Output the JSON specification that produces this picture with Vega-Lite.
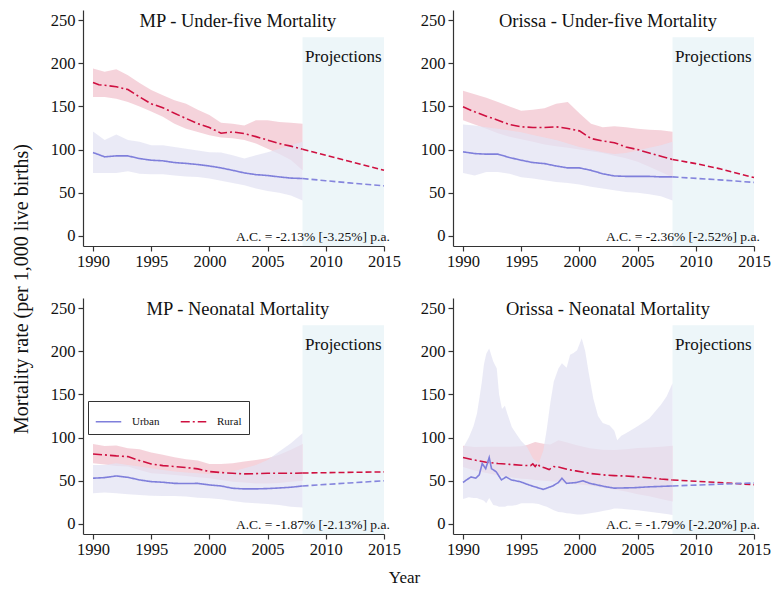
{
  "$schema": "https://vega.github.io/schema/vega-lite/v6.json",
  "padding": {"left": 12, "top": 10, "right": 5, "bottom": 5},
  "title": {"text": "Mortality rate (per 1,000 live births)", "orient": "left", "anchor": "middle", "font": "Liberation Serif", "fontSize": 20, "fontWeight": "normal", "color": "#111", "offset": 18, "dx": 10},
  "datasets": {
    "band": [
      {"p":1,"g":"Rural","yr":1990,"lo":161,"hi":194},{"p":1,"g":"Rural","yr":1991,"lo":161,"hi":190},{"p":1,"g":"Rural","yr":1992,"lo":159,"hi":193},{"p":1,"g":"Rural","yr":1993,"lo":155,"hi":186},{"p":1,"g":"Rural","yr":1994,"lo":150,"hi":177},{"p":1,"g":"Rural","yr":1995,"lo":144,"hi":169},{"p":1,"g":"Rural","yr":1996,"lo":138,"hi":163},{"p":1,"g":"Rural","yr":1997,"lo":130,"hi":157},{"p":1,"g":"Rural","yr":1998,"lo":124,"hi":153},{"p":1,"g":"Rural","yr":1999,"lo":120.5,"hi":146},{"p":1,"g":"Rural","yr":2000,"lo":116.7,"hi":140},{"p":1,"g":"Rural","yr":2001,"lo":114,"hi":131},{"p":1,"g":"Rural","yr":2002,"lo":113,"hi":130},{"p":1,"g":"Rural","yr":2003,"lo":111,"hi":128},{"p":1,"g":"Rural","yr":2004,"lo":107,"hi":134},{"p":1,"g":"Rural","yr":2005,"lo":101,"hi":134},{"p":1,"g":"Rural","yr":2006,"lo":95,"hi":132},{"p":1,"g":"Rural","yr":2007,"lo":88,"hi":131},{"p":1,"g":"Rural","yr":2008,"lo":76,"hi":130},
      {"p":1,"g":"Urban","yr":1990,"lo":73,"hi":121},{"p":1,"g":"Urban","yr":1991,"lo":73,"hi":111},{"p":1,"g":"Urban","yr":1992,"lo":73,"hi":117.5},{"p":1,"g":"Urban","yr":1993,"lo":75,"hi":111},{"p":1,"g":"Urban","yr":1994,"lo":72,"hi":109},{"p":1,"g":"Urban","yr":1995,"lo":71.5,"hi":105},{"p":1,"g":"Urban","yr":1996,"lo":71.5,"hi":105},{"p":1,"g":"Urban","yr":1997,"lo":70,"hi":103},{"p":1,"g":"Urban","yr":1998,"lo":69,"hi":101},{"p":1,"g":"Urban","yr":1999,"lo":68.4,"hi":99},{"p":1,"g":"Urban","yr":2000,"lo":66.5,"hi":97},{"p":1,"g":"Urban","yr":2001,"lo":63.8,"hi":96.6},{"p":1,"g":"Urban","yr":2002,"lo":61.4,"hi":93.5},{"p":1,"g":"Urban","yr":2003,"lo":58.7,"hi":89.6},{"p":1,"g":"Urban","yr":2004,"lo":55,"hi":93.5},{"p":1,"g":"Urban","yr":2005,"lo":52,"hi":97},{"p":1,"g":"Urban","yr":2006,"lo":50,"hi":101},{"p":1,"g":"Urban","yr":2007,"lo":47,"hi":105},{"p":1,"g":"Urban","yr":2008,"lo":41,"hi":109},
      {"p":2,"g":"Rural","yr":1990,"lo":134,"hi":168},{"p":2,"g":"Rural","yr":1991,"lo":129,"hi":164},{"p":2,"g":"Rural","yr":1992,"lo":124,"hi":160},{"p":2,"g":"Rural","yr":1993,"lo":119,"hi":155},{"p":2,"g":"Rural","yr":1994,"lo":115,"hi":150},{"p":2,"g":"Rural","yr":1995,"lo":112,"hi":145},{"p":2,"g":"Rural","yr":1996,"lo":109,"hi":146},{"p":2,"g":"Rural","yr":1997,"lo":106,"hi":148},{"p":2,"g":"Rural","yr":1998,"lo":104,"hi":153},{"p":2,"g":"Rural","yr":1999,"lo":102,"hi":155},{"p":2,"g":"Rural","yr":2000,"lo":100,"hi":142},{"p":2,"g":"Rural","yr":2001,"lo":98,"hi":130},{"p":2,"g":"Rural","yr":2002,"lo":96,"hi":126},{"p":2,"g":"Rural","yr":2003,"lo":93,"hi":127},{"p":2,"g":"Rural","yr":2004,"lo":90,"hi":126},{"p":2,"g":"Rural","yr":2005,"lo":86,"hi":124},{"p":2,"g":"Rural","yr":2006,"lo":80,"hi":123},{"p":2,"g":"Rural","yr":2007,"lo":74,"hi":122.5},{"p":2,"g":"Rural","yr":2008,"lo":68,"hi":120.6},
      {"p":2,"g":"Urban","yr":1990,"lo":73,"hi":129},{"p":2,"g":"Urban","yr":1991,"lo":70,"hi":128},{"p":2,"g":"Urban","yr":1992,"lo":74,"hi":126},{"p":2,"g":"Urban","yr":1993,"lo":74,"hi":124},{"p":2,"g":"Urban","yr":1994,"lo":72,"hi":122},{"p":2,"g":"Urban","yr":1995,"lo":68,"hi":120},{"p":2,"g":"Urban","yr":1996,"lo":66.5,"hi":117},{"p":2,"g":"Urban","yr":1997,"lo":64.5,"hi":114},{"p":2,"g":"Urban","yr":1998,"lo":62.6,"hi":111},{"p":2,"g":"Urban","yr":1999,"lo":61.4,"hi":107},{"p":2,"g":"Urban","yr":2000,"lo":59.5,"hi":103},{"p":2,"g":"Urban","yr":2001,"lo":57,"hi":100},{"p":2,"g":"Urban","yr":2002,"lo":55,"hi":97},{"p":2,"g":"Urban","yr":2003,"lo":53,"hi":95},{"p":2,"g":"Urban","yr":2004,"lo":51,"hi":96},{"p":2,"g":"Urban","yr":2005,"lo":50,"hi":99},{"p":2,"g":"Urban","yr":2006,"lo":48.3,"hi":102},{"p":2,"g":"Urban","yr":2007,"lo":46,"hi":105},{"p":2,"g":"Urban","yr":2008,"lo":41,"hi":109},
      {"p":3,"g":"Rural","yr":1990,"lo":70.3,"hi":92.7},{"p":3,"g":"Rural","yr":1991,"lo":69,"hi":90.4},{"p":3,"g":"Rural","yr":1992,"lo":67,"hi":90.8},{"p":3,"g":"Rural","yr":1993,"lo":66.5,"hi":87.7},{"p":3,"g":"Rural","yr":1994,"lo":62.6,"hi":86.5},{"p":3,"g":"Rural","yr":1995,"lo":58.7,"hi":82.7},{"p":3,"g":"Rural","yr":1996,"lo":58,"hi":80},{"p":3,"g":"Rural","yr":1997,"lo":56.8,"hi":77.3},{"p":3,"g":"Rural","yr":1998,"lo":55.6,"hi":75},{"p":3,"g":"Rural","yr":1999,"lo":54,"hi":73.4},{"p":3,"g":"Rural","yr":2000,"lo":53,"hi":69.5},{"p":3,"g":"Rural","yr":2001,"lo":51,"hi":69.5},{"p":3,"g":"Rural","yr":2002,"lo":49,"hi":70.3},{"p":3,"g":"Rural","yr":2003,"lo":48,"hi":72.3},{"p":3,"g":"Rural","yr":2004,"lo":47,"hi":74.2},{"p":3,"g":"Rural","yr":2005,"lo":47,"hi":76},{"p":3,"g":"Rural","yr":2006,"lo":47.5,"hi":80},{"p":3,"g":"Rural","yr":2007,"lo":49,"hi":85.8},{"p":3,"g":"Rural","yr":2008,"lo":50,"hi":92.7},
      {"p":3,"g":"Urban","yr":1990,"lo":35.5,"hi":68.4},{"p":3,"g":"Urban","yr":1991,"lo":36.3,"hi":68.4},{"p":3,"g":"Urban","yr":1992,"lo":35.5,"hi":70.3},{"p":3,"g":"Urban","yr":1993,"lo":34.4,"hi":68.4},{"p":3,"g":"Urban","yr":1994,"lo":33.6,"hi":66.5},{"p":3,"g":"Urban","yr":1995,"lo":32.8,"hi":64.5},{"p":3,"g":"Urban","yr":1996,"lo":32.5,"hi":62.6},{"p":3,"g":"Urban","yr":1997,"lo":32.5,"hi":60.7},{"p":3,"g":"Urban","yr":1998,"lo":31.7,"hi":59.5},{"p":3,"g":"Urban","yr":1999,"lo":30.5,"hi":58.7},{"p":3,"g":"Urban","yr":2000,"lo":29.8,"hi":58},{"p":3,"g":"Urban","yr":2001,"lo":28.6,"hi":58.7},{"p":3,"g":"Urban","yr":2002,"lo":26.7,"hi":60.7},{"p":3,"g":"Urban","yr":2003,"lo":25,"hi":64.5},{"p":3,"g":"Urban","yr":2004,"lo":24,"hi":68.4},{"p":3,"g":"Urban","yr":2005,"lo":23.2,"hi":74.2},{"p":3,"g":"Urban","yr":2006,"lo":22,"hi":83.8},{"p":3,"g":"Urban","yr":2007,"lo":20,"hi":93.5},{"p":3,"g":"Urban","yr":2008,"lo":19,"hi":105},
      {"p":4,"g":"Rural","yr":1990,"lo":66,"hi":90.5},{"p":4,"g":"Rural","yr":1991,"lo":62,"hi":89},{"p":4,"g":"Rural","yr":1992,"lo":59,"hi":89.5},{"p":4,"g":"Rural","yr":1993,"lo":56.5,"hi":89.5},{"p":4,"g":"Rural","yr":1994,"lo":54,"hi":89.5},{"p":4,"g":"Rural","yr":1995,"lo":52.5,"hi":90},{"p":4,"g":"Rural","yr":1995.5,"lo":52,"hi":91.5},{"p":4,"g":"Rural","yr":1996.2,"lo":51,"hi":95},{"p":4,"g":"Rural","yr":1996.9,"lo":50,"hi":93},{"p":4,"g":"Rural","yr":1997.5,"lo":49.5,"hi":92},{"p":4,"g":"Rural","yr":1998.2,"lo":48.5,"hi":97},{"p":4,"g":"Rural","yr":1998.8,"lo":47.5,"hi":95},{"p":4,"g":"Rural","yr":1999.7,"lo":46,"hi":91.5},{"p":4,"g":"Rural","yr":2000.9,"lo":44.5,"hi":87.6},{"p":4,"g":"Rural","yr":2002,"lo":42,"hi":86},{"p":4,"g":"Rural","yr":2003,"lo":40,"hi":85.5},{"p":4,"g":"Rural","yr":2004,"lo":37.5,"hi":86.5},{"p":4,"g":"Rural","yr":2005,"lo":34.5,"hi":88},{"p":4,"g":"Rural","yr":2006,"lo":32,"hi":88.5},{"p":4,"g":"Rural","yr":2007,"lo":29,"hi":89.5},{"p":4,"g":"Rural","yr":2008,"lo":26,"hi":90.5},
      {"p":4,"g":"Urban","yr":1990,"lo":29,"hi":88},{"p":4,"g":"Urban","yr":1990.5,"lo":31,"hi":100},{"p":4,"g":"Urban","yr":1990.9,"lo":30,"hi":113},{"p":4,"g":"Urban","yr":1991.2,"lo":30,"hi":128},{"p":4,"g":"Urban","yr":1991.4,"lo":29,"hi":145},{"p":4,"g":"Urban","yr":1991.6,"lo":28,"hi":163},{"p":4,"g":"Urban","yr":1991.8,"lo":27,"hi":185},{"p":4,"g":"Urban","yr":1992,"lo":24,"hi":197},{"p":4,"g":"Urban","yr":1992.25,"lo":30,"hi":203},{"p":4,"g":"Urban","yr":1992.6,"lo":22,"hi":188},{"p":4,"g":"Urban","yr":1992.9,"lo":21,"hi":180},{"p":4,"g":"Urban","yr":1993.1,"lo":20,"hi":150},{"p":4,"g":"Urban","yr":1993.35,"lo":20,"hi":133},{"p":4,"g":"Urban","yr":1993.6,"lo":20,"hi":137},{"p":4,"g":"Urban","yr":1993.8,"lo":21,"hi":128},{"p":4,"g":"Urban","yr":1994.2,"lo":21,"hi":112},{"p":4,"g":"Urban","yr":1994.6,"lo":22,"hi":104},{"p":4,"g":"Urban","yr":1995,"lo":24,"hi":96},{"p":4,"g":"Urban","yr":1995.5,"lo":24,"hi":89},{"p":4,"g":"Urban","yr":1996,"lo":24,"hi":76},{"p":4,"g":"Urban","yr":1996.5,"lo":23,"hi":70},{"p":4,"g":"Urban","yr":1996.9,"lo":21,"hi":85},{"p":4,"g":"Urban","yr":1997.2,"lo":20,"hi":110},{"p":4,"g":"Urban","yr":1997.5,"lo":18,"hi":140},{"p":4,"g":"Urban","yr":1997.8,"lo":16,"hi":165},{"p":4,"g":"Urban","yr":1998.2,"lo":14,"hi":180},{"p":4,"g":"Urban","yr":1998.5,"lo":13.5,"hi":186},{"p":4,"g":"Urban","yr":1998.9,"lo":12.5,"hi":181},{"p":4,"g":"Urban","yr":1999.2,"lo":12,"hi":196},{"p":4,"g":"Urban","yr":1999.5,"lo":11.5,"hi":198},{"p":4,"g":"Urban","yr":1999.8,"lo":11,"hi":201},{"p":4,"g":"Urban","yr":2000.2,"lo":11,"hi":215},{"p":4,"g":"Urban","yr":2000.5,"lo":11.5,"hi":200},{"p":4,"g":"Urban","yr":2000.8,"lo":12,"hi":175},{"p":4,"g":"Urban","yr":2001.2,"lo":13,"hi":145},{"p":4,"g":"Urban","yr":2001.6,"lo":14,"hi":125},{"p":4,"g":"Urban","yr":2002,"lo":15,"hi":117},{"p":4,"g":"Urban","yr":2002.6,"lo":16.5,"hi":114},{"p":4,"g":"Urban","yr":2003,"lo":18,"hi":108},{"p":4,"g":"Urban","yr":2003.25,"lo":18,"hi":97},{"p":4,"g":"Urban","yr":2003.6,"lo":17.5,"hi":102},{"p":4,"g":"Urban","yr":2004,"lo":17,"hi":105},{"p":4,"g":"Urban","yr":2005,"lo":16,"hi":113},{"p":4,"g":"Urban","yr":2006,"lo":14.3,"hi":122},{"p":4,"g":"Urban","yr":2007,"lo":12.4,"hi":138},{"p":4,"g":"Urban","yr":2007.5,"lo":11.5,"hi":148},{"p":4,"g":"Urban","yr":2008,"lo":10.4,"hi":163}
    ],
    "line": [
      {"p":1,"g":"Rural","t":"obs","yr":1990,"v":177.7},{"p":1,"g":"Rural","t":"obs","yr":1990.5,"v":175},{"p":1,"g":"Rural","t":"obs","yr":1991,"v":174.5},{"p":1,"g":"Rural","t":"obs","yr":1992,"v":172.7},{"p":1,"g":"Rural","t":"obs","yr":1993,"v":169.5},{"p":1,"g":"Rural","t":"obs","yr":1994,"v":161},{"p":1,"g":"Rural","t":"obs","yr":1995,"v":153},{"p":1,"g":"Rural","t":"obs","yr":1996,"v":148.5},{"p":1,"g":"Rural","t":"obs","yr":1997,"v":142},{"p":1,"g":"Rural","t":"obs","yr":1998,"v":136},{"p":1,"g":"Rural","t":"obs","yr":1999,"v":130},{"p":1,"g":"Rural","t":"obs","yr":2000,"v":125.5},{"p":1,"g":"Rural","t":"obs","yr":2001,"v":119},{"p":1,"g":"Rural","t":"obs","yr":2002,"v":120.5},{"p":1,"g":"Rural","t":"obs","yr":2003,"v":118.5},{"p":1,"g":"Rural","t":"obs","yr":2004,"v":115},{"p":1,"g":"Rural","t":"obs","yr":2005,"v":111},{"p":1,"g":"Rural","t":"obs","yr":2006,"v":107},{"p":1,"g":"Rural","t":"obs","yr":2007,"v":104},{"p":1,"g":"Rural","t":"obs","yr":2008,"v":100.5},
      {"p":1,"g":"Rural","t":"proj","yr":2008,"v":100.5},{"p":1,"g":"Rural","t":"proj","yr":2009,"v":97},{"p":1,"g":"Rural","t":"proj","yr":2010,"v":93.5},{"p":1,"g":"Rural","t":"proj","yr":2011,"v":90},{"p":1,"g":"Rural","t":"proj","yr":2012,"v":86.5},{"p":1,"g":"Rural","t":"proj","yr":2013,"v":83},{"p":1,"g":"Rural","t":"proj","yr":2014,"v":79.5},{"p":1,"g":"Rural","t":"proj","yr":2015,"v":76},
      {"p":1,"g":"Urban","t":"obs","yr":1990,"v":96.6},{"p":1,"g":"Urban","t":"obs","yr":1991,"v":91.6},{"p":1,"g":"Urban","t":"obs","yr":1992,"v":92.7},{"p":1,"g":"Urban","t":"obs","yr":1993,"v":92.7},{"p":1,"g":"Urban","t":"obs","yr":1994,"v":89.6},{"p":1,"g":"Urban","t":"obs","yr":1995,"v":87.7},{"p":1,"g":"Urban","t":"obs","yr":1996,"v":87},{"p":1,"g":"Urban","t":"obs","yr":1997,"v":85},{"p":1,"g":"Urban","t":"obs","yr":1998,"v":84},{"p":1,"g":"Urban","t":"obs","yr":1999,"v":82.7},{"p":1,"g":"Urban","t":"obs","yr":2000,"v":81},{"p":1,"g":"Urban","t":"obs","yr":2001,"v":78.8},{"p":1,"g":"Urban","t":"obs","yr":2002,"v":76},{"p":1,"g":"Urban","t":"obs","yr":2003,"v":73},{"p":1,"g":"Urban","t":"obs","yr":2004,"v":71},{"p":1,"g":"Urban","t":"obs","yr":2005,"v":70},{"p":1,"g":"Urban","t":"obs","yr":2006,"v":68.4},{"p":1,"g":"Urban","t":"obs","yr":2007,"v":67},{"p":1,"g":"Urban","t":"obs","yr":2008,"v":66.5},
      {"p":1,"g":"Urban","t":"proj","yr":2008,"v":66.5},{"p":1,"g":"Urban","t":"proj","yr":2010,"v":64},{"p":1,"g":"Urban","t":"proj","yr":2012,"v":61.5},{"p":1,"g":"Urban","t":"proj","yr":2015,"v":58},
      {"p":2,"g":"Rural","t":"obs","yr":1990,"v":149.5},{"p":2,"g":"Rural","t":"obs","yr":1991,"v":143.7},{"p":2,"g":"Rural","t":"obs","yr":1992,"v":138.7},{"p":2,"g":"Rural","t":"obs","yr":1993,"v":134},{"p":2,"g":"Rural","t":"obs","yr":1994,"v":129},{"p":2,"g":"Rural","t":"obs","yr":1995,"v":126.4},{"p":2,"g":"Rural","t":"obs","yr":1996,"v":125.6},{"p":2,"g":"Rural","t":"obs","yr":1997,"v":125.6},{"p":2,"g":"Rural","t":"obs","yr":1998,"v":126.4},{"p":2,"g":"Rural","t":"obs","yr":1999,"v":124.4},{"p":2,"g":"Rural","t":"obs","yr":2000,"v":121.7},{"p":2,"g":"Rural","t":"obs","yr":2001,"v":112.8},{"p":2,"g":"Rural","t":"obs","yr":2002,"v":110},{"p":2,"g":"Rural","t":"obs","yr":2003,"v":108},{"p":2,"g":"Rural","t":"obs","yr":2004,"v":103},{"p":2,"g":"Rural","t":"obs","yr":2005,"v":100},{"p":2,"g":"Rural","t":"obs","yr":2006,"v":96},{"p":2,"g":"Rural","t":"obs","yr":2007,"v":92.3},{"p":2,"g":"Rural","t":"obs","yr":2008,"v":88.5},
      {"p":2,"g":"Rural","t":"proj","yr":2008,"v":88.5},{"p":2,"g":"Rural","t":"proj","yr":2010,"v":83.8},{"p":2,"g":"Rural","t":"proj","yr":2012,"v":78},{"p":2,"g":"Rural","t":"proj","yr":2015,"v":67.6},
      {"p":2,"g":"Urban","t":"obs","yr":1990,"v":97.4},{"p":2,"g":"Urban","t":"obs","yr":1991,"v":95.4},{"p":2,"g":"Urban","t":"obs","yr":1992,"v":94.7},{"p":2,"g":"Urban","t":"obs","yr":1993,"v":94.7},{"p":2,"g":"Urban","t":"obs","yr":1994,"v":90.8},{"p":2,"g":"Urban","t":"obs","yr":1995,"v":87.7},{"p":2,"g":"Urban","t":"obs","yr":1996,"v":85},{"p":2,"g":"Urban","t":"obs","yr":1997,"v":83.8},{"p":2,"g":"Urban","t":"obs","yr":1998,"v":81},{"p":2,"g":"Urban","t":"obs","yr":1999,"v":78.8},{"p":2,"g":"Urban","t":"obs","yr":2000,"v":78.8},{"p":2,"g":"Urban","t":"obs","yr":2001,"v":76},{"p":2,"g":"Urban","t":"obs","yr":2002,"v":72},{"p":2,"g":"Urban","t":"obs","yr":2003,"v":69.5},{"p":2,"g":"Urban","t":"obs","yr":2004,"v":69},{"p":2,"g":"Urban","t":"obs","yr":2005,"v":69},{"p":2,"g":"Urban","t":"obs","yr":2006,"v":69},{"p":2,"g":"Urban","t":"obs","yr":2007,"v":68.4},{"p":2,"g":"Urban","t":"obs","yr":2008,"v":68.4},
      {"p":2,"g":"Urban","t":"proj","yr":2008,"v":68.4},{"p":2,"g":"Urban","t":"proj","yr":2012,"v":65},{"p":2,"g":"Urban","t":"proj","yr":2015,"v":62},
      {"p":3,"g":"Rural","t":"obs","yr":1990,"v":81},{"p":3,"g":"Rural","t":"obs","yr":1991,"v":80},{"p":3,"g":"Rural","t":"obs","yr":1992,"v":78.8},{"p":3,"g":"Rural","t":"obs","yr":1993,"v":78},{"p":3,"g":"Rural","t":"obs","yr":1994,"v":73.4},{"p":3,"g":"Rural","t":"obs","yr":1995,"v":69.5},{"p":3,"g":"Rural","t":"obs","yr":1996,"v":67.6},{"p":3,"g":"Rural","t":"obs","yr":1997,"v":66.5},{"p":3,"g":"Rural","t":"obs","yr":1998,"v":65.3},{"p":3,"g":"Rural","t":"obs","yr":1999,"v":63.8},{"p":3,"g":"Rural","t":"obs","yr":2000,"v":60.7},{"p":3,"g":"Rural","t":"obs","yr":2001,"v":59.5},{"p":3,"g":"Rural","t":"obs","yr":2002,"v":58.7},{"p":3,"g":"Rural","t":"obs","yr":2003,"v":58},{"p":3,"g":"Rural","t":"obs","yr":2004,"v":58.3},{"p":3,"g":"Rural","t":"obs","yr":2005,"v":58.7},{"p":3,"g":"Rural","t":"obs","yr":2006,"v":58.7},{"p":3,"g":"Rural","t":"obs","yr":2007,"v":58.7},{"p":3,"g":"Rural","t":"obs","yr":2008,"v":59},
      {"p":3,"g":"Rural","t":"proj","yr":2008,"v":59},{"p":3,"g":"Rural","t":"proj","yr":2015,"v":60.3},
      {"p":3,"g":"Urban","t":"obs","yr":1990,"v":53},{"p":3,"g":"Urban","t":"obs","yr":1991,"v":53.7},{"p":3,"g":"Urban","t":"obs","yr":1992,"v":55.6},{"p":3,"g":"Urban","t":"obs","yr":1993,"v":54},{"p":3,"g":"Urban","t":"obs","yr":1994,"v":51},{"p":3,"g":"Urban","t":"obs","yr":1995,"v":49},{"p":3,"g":"Urban","t":"obs","yr":1996,"v":48.3},{"p":3,"g":"Urban","t":"obs","yr":1997,"v":47},{"p":3,"g":"Urban","t":"obs","yr":1998,"v":46.8},{"p":3,"g":"Urban","t":"obs","yr":1999,"v":47},{"p":3,"g":"Urban","t":"obs","yr":2000,"v":45.2},{"p":3,"g":"Urban","t":"obs","yr":2001,"v":44},{"p":3,"g":"Urban","t":"obs","yr":2002,"v":41.3},{"p":3,"g":"Urban","t":"obs","yr":2003,"v":40.6},{"p":3,"g":"Urban","t":"obs","yr":2004,"v":40.6},{"p":3,"g":"Urban","t":"obs","yr":2005,"v":41},{"p":3,"g":"Urban","t":"obs","yr":2006,"v":41.7},{"p":3,"g":"Urban","t":"obs","yr":2007,"v":42.5},{"p":3,"g":"Urban","t":"obs","yr":2008,"v":44},
      {"p":3,"g":"Urban","t":"proj","yr":2008,"v":44},{"p":3,"g":"Urban","t":"proj","yr":2012,"v":47.5},{"p":3,"g":"Urban","t":"proj","yr":2015,"v":50},
      {"p":4,"g":"Rural","t":"obs","yr":1990,"v":77},{"p":4,"g":"Rural","t":"obs","yr":1991,"v":74},{"p":4,"g":"Rural","t":"obs","yr":1992,"v":71.5},{"p":4,"g":"Rural","t":"obs","yr":1993,"v":70},{"p":4,"g":"Rural","t":"obs","yr":1994,"v":69},{"p":4,"g":"Rural","t":"obs","yr":1995,"v":68},{"p":4,"g":"Rural","t":"obs","yr":1995.8,"v":67.5},{"p":4,"g":"Rural","t":"obs","yr":1996,"v":69.5},{"p":4,"g":"Rural","t":"obs","yr":1996.2,"v":66.5},{"p":4,"g":"Rural","t":"obs","yr":1996.4,"v":70},{"p":4,"g":"Rural","t":"obs","yr":1996.6,"v":66.5},{"p":4,"g":"Rural","t":"obs","yr":1997,"v":65},{"p":4,"g":"Rural","t":"obs","yr":1997.4,"v":63},{"p":4,"g":"Rural","t":"obs","yr":1997.8,"v":66.5},{"p":4,"g":"Rural","t":"obs","yr":1998.2,"v":66},{"p":4,"g":"Rural","t":"obs","yr":1998.6,"v":64.5},{"p":4,"g":"Rural","t":"obs","yr":1999,"v":63},{"p":4,"g":"Rural","t":"obs","yr":1999.7,"v":61.5},{"p":4,"g":"Rural","t":"obs","yr":2000.9,"v":58.5},{"p":4,"g":"Rural","t":"obs","yr":2002.3,"v":56.5},{"p":4,"g":"Rural","t":"obs","yr":2003,"v":56},{"p":4,"g":"Rural","t":"obs","yr":2004,"v":55.5},{"p":4,"g":"Rural","t":"obs","yr":2005,"v":54.5},{"p":4,"g":"Rural","t":"obs","yr":2006,"v":53.5},{"p":4,"g":"Rural","t":"obs","yr":2007,"v":52},{"p":4,"g":"Rural","t":"obs","yr":2008,"v":51},
      {"p":4,"g":"Rural","t":"proj","yr":2008,"v":51},{"p":4,"g":"Rural","t":"proj","yr":2010,"v":49.5},{"p":4,"g":"Rural","t":"proj","yr":2012,"v":48},{"p":4,"g":"Rural","t":"proj","yr":2015,"v":45.5},
      {"p":4,"g":"Urban","t":"obs","yr":1990,"v":48},{"p":4,"g":"Urban","t":"obs","yr":1990.3,"v":51},{"p":4,"g":"Urban","t":"obs","yr":1990.7,"v":54.5},{"p":4,"g":"Urban","t":"obs","yr":1991.1,"v":53},{"p":4,"g":"Urban","t":"obs","yr":1991.4,"v":57},{"p":4,"g":"Urban","t":"obs","yr":1991.65,"v":70},{"p":4,"g":"Urban","t":"obs","yr":1991.95,"v":64},{"p":4,"g":"Urban","t":"obs","yr":1992.25,"v":77},{"p":4,"g":"Urban","t":"obs","yr":1992.45,"v":64},{"p":4,"g":"Urban","t":"obs","yr":1992.85,"v":60.5},{"p":4,"g":"Urban","t":"obs","yr":1993.3,"v":51},{"p":4,"g":"Urban","t":"obs","yr":1993.7,"v":54.5},{"p":4,"g":"Urban","t":"obs","yr":1994.15,"v":51},{"p":4,"g":"Urban","t":"obs","yr":1994.9,"v":49},{"p":4,"g":"Urban","t":"obs","yr":1995.7,"v":45},{"p":4,"g":"Urban","t":"obs","yr":1996.9,"v":40},{"p":4,"g":"Urban","t":"obs","yr":1997.7,"v":44},{"p":4,"g":"Urban","t":"obs","yr":1998.2,"v":48},{"p":4,"g":"Urban","t":"obs","yr":1998.5,"v":53},{"p":4,"g":"Urban","t":"obs","yr":1998.9,"v":47},{"p":4,"g":"Urban","t":"obs","yr":1999.75,"v":48},{"p":4,"g":"Urban","t":"obs","yr":2000.3,"v":50},{"p":4,"g":"Urban","t":"obs","yr":2000.9,"v":47},{"p":4,"g":"Urban","t":"obs","yr":2002.3,"v":43},{"p":4,"g":"Urban","t":"obs","yr":2003,"v":41.5},{"p":4,"g":"Urban","t":"obs","yr":2004.7,"v":42},{"p":4,"g":"Urban","t":"obs","yr":2006,"v":43},{"p":4,"g":"Urban","t":"obs","yr":2007,"v":43.5},{"p":4,"g":"Urban","t":"obs","yr":2008,"v":44},
      {"p":4,"g":"Urban","t":"proj","yr":2008,"v":44},{"p":4,"g":"Urban","t":"proj","yr":2010,"v":45},{"p":4,"g":"Urban","t":"proj","yr":2012,"v":46},{"p":4,"g":"Urban","t":"proj","yr":2015,"v":47.5}
    ]
  },
  "vconcat": [
    {
      "concat": [
        {
          "width": 301, "height": 236,
          "layer": [
            {"data": {"values": [{"s": "Projections"}]}, "mark": {"type": "rect", "color": "#edf6f9"},
             "encoding": {"x": {"datum": 2008, "type": "quantitative"}, "x2": {"datum": 2015}, "y": {"datum": -11.6, "type": "quantitative"}, "y2": {"datum": 230}}},
            {"data": {"name": "band"}, "transform": [{"filter": "datum.p == 1 && datum.g == 'Rural'"}], "mark": {"type": "area", "color": "#f2c4cf", "opacity": 0.75},
             "encoding": {"x": {"field": "yr", "type": "quantitative", "scale": {"domain": [1989.14, 2015], "nice": false, "zero": false}, "axis": {"values": [1990, 1995, 2000, 2005, 2010, 2015], "format": "d", "labelFlush": false, "title": null}},
                          "y": {"field": "lo", "type": "quantitative", "scale": {"domain": [-11.6, 261.6], "nice": false, "zero": false}, "axis": {"values": [0, 50, 100, 150, 200, 250], "title": null}}, "y2": {"field": "hi"}}},
            {"data": {"name": "band"}, "transform": [{"filter": "datum.p == 1 && datum.g == 'Urban'"}], "mark": {"type": "area", "color": "#e3e3f3", "opacity": 0.75},
             "encoding": {"x": {"field": "yr", "type": "quantitative"}, "y": {"field": "lo", "type": "quantitative"}, "y2": {"field": "hi"}}},
            {"data": {"name": "line"}, "transform": [{"filter": "datum.p == 1 && datum.t == 'obs'"}], "mark": {"type": "line", "strokeWidth": 1.6},
             "encoding": {"x": {"field": "yr", "type": "quantitative"}, "y": {"field": "v", "type": "quantitative"},
                          "stroke": {"field": "g", "type": "nominal", "scale": {"domain": ["Urban", "Rural"], "range": ["#7f7fdb", "#cf1040"]}, "legend": null},
                          "strokeDash": {"field": "g", "type": "nominal", "scale": {"domain": ["Urban", "Rural"], "range": [[1, 0], [9, 3, 2, 3]]}, "legend": null}}},
            {"data": {"name": "line"}, "transform": [{"filter": "datum.p == 1 && datum.t == 'proj'"}], "mark": {"type": "line", "strokeWidth": 1.6, "strokeDash": [6, 3]},
             "encoding": {"x": {"field": "yr", "type": "quantitative"}, "y": {"field": "v", "type": "quantitative"},
                          "color": {"field": "g", "type": "nominal", "scale": {"domain": ["Urban", "Rural"], "range": ["#8585dd", "#cf1040"]}, "legend": null}}},
            {"data": {"values": [{"s": "Projections"}]}, "mark": {"type": "text", "font": "Liberation Serif", "fontSize": 17, "color": "#111", "baseline": "alphabetic"},
             "encoding": {"x": {"datum": 2011.5, "type": "quantitative"}, "y": {"datum": 201.7, "type": "quantitative"}, "text": {"field": "s"}}},
            {"data": {"values": [{"s": "MP - Under-five Mortality"}]}, "mark": {"type": "text", "font": "Liberation Serif", "fontSize": 18.5, "color": "#111", "baseline": "alphabetic"},
             "encoding": {"x": {"datum": 2002.45, "type": "quantitative"}, "y": {"datum": 241.5, "type": "quantitative"}, "text": {"field": "s"}}},
            {"data": {"values": [{"s": "A.C. = -2.13% [-3.25%] p.a."}]}, "mark": {"type": "text", "font": "Liberation Serif", "fontSize": 13.5, "color": "#111", "baseline": "alphabetic", "align": "right"},
             "encoding": {"x": {"datum": 2015.5, "type": "quantitative"}, "y": {"datum": -5.4, "type": "quantitative"}, "text": {"field": "s"}}}
          ]
        },
        {
          "width": 301, "height": 236,
          "layer": [
            {"data": {"values": [{"s": "Projections"}]}, "mark": {"type": "rect", "color": "#edf6f9"},
             "encoding": {"x": {"datum": 2008, "type": "quantitative"}, "x2": {"datum": 2015}, "y": {"datum": -11.6, "type": "quantitative"}, "y2": {"datum": 230}}},
            {"data": {"name": "band"}, "transform": [{"filter": "datum.p == 2 && datum.g == 'Rural'"}], "mark": {"type": "area", "color": "#f2c4cf", "opacity": 0.75},
             "encoding": {"x": {"field": "yr", "type": "quantitative", "scale": {"domain": [1989.14, 2015], "nice": false, "zero": false}, "axis": {"values": [1990, 1995, 2000, 2005, 2010, 2015], "format": "d", "labelFlush": false, "title": null}},
                          "y": {"field": "lo", "type": "quantitative", "scale": {"domain": [-11.6, 261.6], "nice": false, "zero": false}, "axis": {"values": [0, 50, 100, 150, 200, 250], "title": null}}, "y2": {"field": "hi"}}},
            {"data": {"name": "band"}, "transform": [{"filter": "datum.p == 2 && datum.g == 'Urban'"}], "mark": {"type": "area", "color": "#e3e3f3", "opacity": 0.75},
             "encoding": {"x": {"field": "yr", "type": "quantitative"}, "y": {"field": "lo", "type": "quantitative"}, "y2": {"field": "hi"}}},
            {"data": {"name": "line"}, "transform": [{"filter": "datum.p == 2 && datum.t == 'obs'"}], "mark": {"type": "line", "strokeWidth": 1.6},
             "encoding": {"x": {"field": "yr", "type": "quantitative"}, "y": {"field": "v", "type": "quantitative"},
                          "stroke": {"field": "g", "type": "nominal", "scale": {"domain": ["Urban", "Rural"], "range": ["#7f7fdb", "#cf1040"]}, "legend": null},
                          "strokeDash": {"field": "g", "type": "nominal", "scale": {"domain": ["Urban", "Rural"], "range": [[1, 0], [9, 3, 2, 3]]}, "legend": null}}},
            {"data": {"name": "line"}, "transform": [{"filter": "datum.p == 2 && datum.t == 'proj'"}], "mark": {"type": "line", "strokeWidth": 1.6, "strokeDash": [6, 3]},
             "encoding": {"x": {"field": "yr", "type": "quantitative"}, "y": {"field": "v", "type": "quantitative"},
                          "color": {"field": "g", "type": "nominal", "scale": {"domain": ["Urban", "Rural"], "range": ["#8585dd", "#cf1040"]}, "legend": null}}},
            {"data": {"values": [{"s": "Projections"}]}, "mark": {"type": "text", "font": "Liberation Serif", "fontSize": 17, "color": "#111", "baseline": "alphabetic"},
             "encoding": {"x": {"datum": 2011.5, "type": "quantitative"}, "y": {"datum": 201.7, "type": "quantitative"}, "text": {"field": "s"}}},
            {"data": {"values": [{"s": "Orissa - Under-five Mortality"}]}, "mark": {"type": "text", "font": "Liberation Serif", "fontSize": 18.5, "color": "#111", "baseline": "alphabetic"},
             "encoding": {"x": {"datum": 2002.45, "type": "quantitative"}, "y": {"datum": 241.5, "type": "quantitative"}, "text": {"field": "s"}}},
            {"data": {"values": [{"s": "A.C. = -2.36% [-2.52%] p.a."}]}, "mark": {"type": "text", "font": "Liberation Serif", "fontSize": 13.5, "color": "#111", "baseline": "alphabetic", "align": "right"},
             "encoding": {"x": {"datum": 2015.5, "type": "quantitative"}, "y": {"datum": -5.4, "type": "quantitative"}, "text": {"field": "s"}}}
          ]
        },
        {
          "width": 301, "height": 236,
          "layer": [
            {"data": {"values": [{"s": "Projections"}]}, "mark": {"type": "rect", "color": "#edf6f9"},
             "encoding": {"x": {"datum": 2008, "type": "quantitative"}, "x2": {"datum": 2015}, "y": {"datum": -11.6, "type": "quantitative"}, "y2": {"datum": 230}}},
            {"data": {"name": "band"}, "transform": [{"filter": "datum.p == 3 && datum.g == 'Rural'"}], "mark": {"type": "area", "color": "#f2c4cf", "opacity": 0.75},
             "encoding": {"x": {"field": "yr", "type": "quantitative", "scale": {"domain": [1989.14, 2015], "nice": false, "zero": false}, "axis": {"values": [1990, 1995, 2000, 2005, 2010, 2015], "format": "d", "labelFlush": false, "title": null}},
                          "y": {"field": "lo", "type": "quantitative", "scale": {"domain": [-11.6, 261.6], "nice": false, "zero": false}, "axis": {"values": [0, 50, 100, 150, 200, 250], "title": null}}, "y2": {"field": "hi"}}},
            {"data": {"name": "band"}, "transform": [{"filter": "datum.p == 3 && datum.g == 'Urban'"}], "mark": {"type": "area", "color": "#e3e3f3", "opacity": 0.75},
             "encoding": {"x": {"field": "yr", "type": "quantitative"}, "y": {"field": "lo", "type": "quantitative"}, "y2": {"field": "hi"}}},
            {"data": {"name": "line"}, "transform": [{"filter": "datum.p == 3 && datum.t == 'obs'"}], "mark": {"type": "line", "strokeWidth": 1.6},
             "encoding": {"x": {"field": "yr", "type": "quantitative"}, "y": {"field": "v", "type": "quantitative"},
                          "stroke": {"field": "g", "type": "nominal", "scale": {"domain": ["Urban", "Rural"], "range": ["#7f7fdb", "#cf1040"]},
                                     "legend": {"orient": "none", "legendX": 5, "legendY": 103, "direction": "horizontal", "title": null, "strokeColor": "#333", "fillColor": "white", "padding": 7, "symbolType": "stroke", "symbolSize": 650, "symbolStrokeWidth": 1.5, "labelFont": "Liberation Serif", "labelFontSize": 11, "labelColor": "#111", "columnPadding": 17, "labelOffset": 10}},
                          "strokeDash": {"field": "g", "type": "nominal", "scale": {"domain": ["Urban", "Rural"], "range": [[1, 0], [9, 3, 2, 3]]},
                                     "legend": {"orient": "none", "legendX": 5, "legendY": 103, "direction": "horizontal", "title": null, "strokeColor": "#333", "fillColor": "white", "padding": 7, "symbolType": "stroke", "symbolSize": 650, "symbolStrokeWidth": 1.5, "labelFont": "Liberation Serif", "labelFontSize": 11, "labelColor": "#111", "columnPadding": 17, "labelOffset": 10}}}},
            {"data": {"name": "line"}, "transform": [{"filter": "datum.p == 3 && datum.t == 'proj'"}], "mark": {"type": "line", "strokeWidth": 1.6, "strokeDash": [6, 3]},
             "encoding": {"x": {"field": "yr", "type": "quantitative"}, "y": {"field": "v", "type": "quantitative"},
                          "color": {"field": "g", "type": "nominal", "scale": {"domain": ["Urban", "Rural"], "range": ["#8585dd", "#cf1040"]}, "legend": null}}},
            {"data": {"values": [{"s": "Projections"}]}, "mark": {"type": "text", "font": "Liberation Serif", "fontSize": 17, "color": "#111", "baseline": "alphabetic"},
             "encoding": {"x": {"datum": 2011.5, "type": "quantitative"}, "y": {"datum": 201.7, "type": "quantitative"}, "text": {"field": "s"}}},
            {"data": {"values": [{"s": "MP - Neonatal Mortality"}]}, "mark": {"type": "text", "font": "Liberation Serif", "fontSize": 18.5, "color": "#111", "baseline": "alphabetic"},
             "encoding": {"x": {"datum": 2002.45, "type": "quantitative"}, "y": {"datum": 241.5, "type": "quantitative"}, "text": {"field": "s"}}},
            {"data": {"values": [{"s": "A.C. = -1.87% [-2.13%] p.a."}]}, "mark": {"type": "text", "font": "Liberation Serif", "fontSize": 13.5, "color": "#111", "baseline": "alphabetic", "align": "right"},
             "encoding": {"x": {"datum": 2015.5, "type": "quantitative"}, "y": {"datum": -5.4, "type": "quantitative"}, "text": {"field": "s"}}}
          ]
        },
        {
          "width": 301, "height": 236,
          "layer": [
            {"data": {"values": [{"s": "Projections"}]}, "mark": {"type": "rect", "color": "#edf6f9"},
             "encoding": {"x": {"datum": 2008, "type": "quantitative"}, "x2": {"datum": 2015}, "y": {"datum": -11.6, "type": "quantitative"}, "y2": {"datum": 230}}},
            {"data": {"name": "band"}, "transform": [{"filter": "datum.p == 4 && datum.g == 'Rural'"}], "mark": {"type": "area", "color": "#f2c4cf", "opacity": 0.75},
             "encoding": {"x": {"field": "yr", "type": "quantitative", "scale": {"domain": [1989.14, 2015], "nice": false, "zero": false}, "axis": {"values": [1990, 1995, 2000, 2005, 2010, 2015], "format": "d", "labelFlush": false, "title": null}},
                          "y": {"field": "lo", "type": "quantitative", "scale": {"domain": [-11.6, 261.6], "nice": false, "zero": false}, "axis": {"values": [0, 50, 100, 150, 200, 250], "title": null}}, "y2": {"field": "hi"}}},
            {"data": {"name": "band"}, "transform": [{"filter": "datum.p == 4 && datum.g == 'Urban'"}], "mark": {"type": "area", "color": "#e3e3f3", "opacity": 0.75},
             "encoding": {"x": {"field": "yr", "type": "quantitative"}, "y": {"field": "lo", "type": "quantitative"}, "y2": {"field": "hi"}}},
            {"data": {"name": "line"}, "transform": [{"filter": "datum.p == 4 && datum.t == 'obs'"}], "mark": {"type": "line", "strokeWidth": 1.6},
             "encoding": {"x": {"field": "yr", "type": "quantitative"}, "y": {"field": "v", "type": "quantitative"},
                          "stroke": {"field": "g", "type": "nominal", "scale": {"domain": ["Urban", "Rural"], "range": ["#7f7fdb", "#cf1040"]}, "legend": null},
                          "strokeDash": {"field": "g", "type": "nominal", "scale": {"domain": ["Urban", "Rural"], "range": [[1, 0], [9, 3, 2, 3]]}, "legend": null}}},
            {"data": {"name": "line"}, "transform": [{"filter": "datum.p == 4 && datum.t == 'proj'"}], "mark": {"type": "line", "strokeWidth": 1.6, "strokeDash": [6, 3]},
             "encoding": {"x": {"field": "yr", "type": "quantitative"}, "y": {"field": "v", "type": "quantitative"},
                          "color": {"field": "g", "type": "nominal", "scale": {"domain": ["Urban", "Rural"], "range": ["#8585dd", "#cf1040"]}, "legend": null}}},
            {"data": {"values": [{"s": "Projections"}]}, "mark": {"type": "text", "font": "Liberation Serif", "fontSize": 17, "color": "#111", "baseline": "alphabetic"},
             "encoding": {"x": {"datum": 2011.5, "type": "quantitative"}, "y": {"datum": 201.7, "type": "quantitative"}, "text": {"field": "s"}}},
            {"data": {"values": [{"s": "Orissa - Neonatal Mortality"}]}, "mark": {"type": "text", "font": "Liberation Serif", "fontSize": 18.5, "color": "#111", "baseline": "alphabetic"},
             "encoding": {"x": {"datum": 2002.45, "type": "quantitative"}, "y": {"datum": 241.5, "type": "quantitative"}, "text": {"field": "s"}}},
            {"data": {"values": [{"s": "A.C. = -1.79% [-2.20%] p.a."}]}, "mark": {"type": "text", "font": "Liberation Serif", "fontSize": 13.5, "color": "#111", "baseline": "alphabetic", "align": "right"},
             "encoding": {"x": {"datum": 2015.5, "type": "quantitative"}, "y": {"datum": -5.4, "type": "quantitative"}, "text": {"field": "s"}}}
          ]
        }
      ],
      "columns": 2,
      "spacing": {"row": 52, "column": 69},
      "bounds": "flush",
      "resolve": {"scale": {"stroke": "independent", "strokeDash": "independent", "color": "independent", "x": "independent", "y": "independent"}, "legend": {"stroke": "independent", "strokeDash": "independent", "color": "independent"}, "axis": {"x": "independent", "y": "independent"}}
    },
    {
      "width": 643, "height": 20,
      "data": {"values": [{"s": "Year"}]},
      "mark": {"type": "text", "font": "Liberation Serif", "fontSize": 17, "color": "#111"},
      "encoding": {"text": {"field": "s"}}
    }
  ],
  "spacing": 10,
  "config": {
    "view": {"stroke": null},
    "axis": {"grid": false, "domainColor": "#333", "domainWidth": 1.2, "tickColor": "#333", "tickWidth": 1.2, "tickSize": 5, "labelFont": "Liberation Serif", "labelFontSize": 16.5, "labelColor": "#111", "labelPadding": 2},
    "axisY": {"labelPadding": 3}
  }
}
